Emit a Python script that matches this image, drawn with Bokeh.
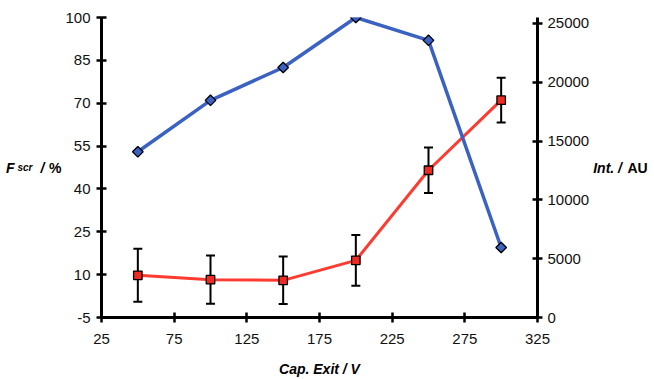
import numpy as np
from bokeh.plotting import figure
from bokeh.models import (Range1d, LinearAxis, FixedTicker, ColumnDataSource,
                          Whisker, TeeHead)
from bokeh.embed import file_html
from bokeh.resources import INLINE

# ---- data ----
cap_exit = [50, 100, 150, 200, 250, 300]
f_scr = [53, 71, 82.5, 100, 92, 19.5]
intensity = [3590, 3220, 3160, 4860, 12520, 18480]
int_err = [2260, 2060, 2020, 2160, 1930, 1900]

x_ticks = [25, 75, 125, 175, 225, 275, 325]
left_ticks = [-5, 10, 25, 40, 55, 70, 85, 100]
right_ticks = [0, 5000, 10000, 15000, 20000, 25000]

# ---- layout ----
W, H = 654, 379
FL, FR, FT, FB = 101, 537, 17, 318

p = figure(width=W, height=H, output_backend="svg", toolbar_location=None,
           x_range=Range1d(25, 325), y_range=Range1d(-5, 100),
           min_border_left=FL, min_border_right=W - FR,
           min_border_top=FT, min_border_bottom=H - FB)
p.extra_y_ranges = {"int": Range1d(0, 25508)}
p.xgrid.visible = False
p.ygrid.visible = False
p.outline_line_color = None
p.background_fill_color = "white"
p.border_fill_color = "white"

FONT = "Liberation Sans"


def style_axis(ax, ticks, standoff):
    ax.ticker = FixedTicker(ticks=ticks)
    ax.axis_line_width = 3
    ax.axis_line_color = "black"
    ax.major_tick_line_width = 2.5
    ax.major_tick_line_color = "black"
    ax.major_tick_in = 5
    ax.major_tick_out = 5
    ax.minor_tick_line_color = None
    ax.major_label_text_font = FONT
    ax.major_label_text_font_size = "15px"
    ax.major_label_text_color = "#111111"
    ax.major_label_standoff = standoff
    ax.major_label_overrides = {t: str(t) for t in ticks}


def title_part(ax, text, size="14px", style="bold italic", standoff=0,
               horizontal=True):
    ax.axis_label = text
    ax.axis_label_text_font = FONT
    ax.axis_label_text_font_size = size
    ax.axis_label_text_font_style = style
    ax.axis_label_text_color = "black"
    ax.axis_label_standoff = standoff
    if horizontal:
        ax.axis_label_orientation = "horizontal"


def label_axis(side, range_name=None):
    kw = {"y_range_name": range_name} if range_name else {}
    ax = LinearAxis(**kw)
    ax.ticker = FixedTicker(ticks=[])
    ax.axis_line_color = None
    ax.major_tick_line_color = None
    ax.minor_tick_line_color = None
    ax.major_tick_in = 0
    ax.major_tick_out = 0
    ax.major_label_standoff = 0
    p.add_layout(ax, side)
    return ax


# x axis
style_axis(p.xaxis[0], x_ticks, 11)
title_part(p.xaxis[0], "Cap. Exit / V", standoff=14, horizontal=False)

# left axis + title "F_scr / %"
style_axis(p.yaxis[0], left_ticks, 6)
title_part(p.yaxis[0], "%", style="bold", standoff=1)
title_part(label_axis("left"), "/", standoff=2)
title_part(label_axis("left"), "scr", size="10px", standoff=5)
title_part(label_axis("left"), "F", standoff=0)

# right axis + title "Int. / AU"
rax = LinearAxis(y_range_name="int")
style_axis(rax, right_ticks, 5)
title_part(rax, "Int. /", standoff=1)
p.add_layout(rax, "right")
title_part(label_axis("right", "int"), "AU", style="bold", standoff=3)

# ---- intensity (red) ----
src_r = ColumnDataSource(dict(x=cap_exit, y=intensity,
                              upper=[v + e for v, e in zip(intensity, int_err)],
                              lower=[v - e for v, e in zip(intensity, int_err)]))
p.line("x", "y", source=src_r, y_range_name="int", line_color="#ff3b30",
       line_width=3)
wh = Whisker(source=src_r, base="x", upper="upper", lower="lower",
             y_range_name="int", line_color="black", line_width=2,
             upper_head=TeeHead(size=9, line_width=2, line_color="black"),
             lower_head=TeeHead(size=9, line_width=2, line_color="black"))
p.add_layout(wh)
p.scatter("x", "y", source=src_r, y_range_name="int", marker="square",
          size=8.5, fill_color="#ee2a24", line_color="black", line_width=1.3)

# ---- F_scr (blue) ----
p.line(cap_exit, f_scr, line_color="#3b62c2", line_width=3.5)
p.scatter(cap_exit, f_scr, marker="square", angle=np.pi / 4, size=7.5,
          fill_color="#3b62c2", line_color="black", line_width=1.3)

open("out.html", "w").write(file_html(p, INLINE))
